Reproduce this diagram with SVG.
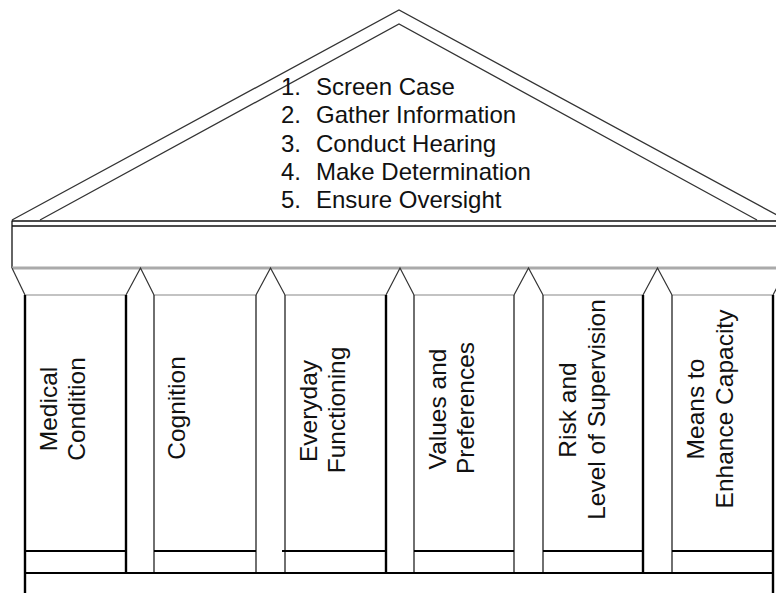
<svg xmlns="http://www.w3.org/2000/svg" width="776" height="593" viewBox="0 0 776 593">
  <style>
    .roof { fill: none; stroke: #333; stroke-width: 1.3; stroke-linejoin: miter; }
    .ent { fill: none; stroke: #111; stroke-width: 1.3; }
    .cap { fill: none; stroke: #333; stroke-width: 1.2; stroke-linejoin: miter; }
    .capbase { stroke: #888; stroke-width: 1.2; }
    .thick { stroke: #000; stroke-width: 2.4; }
    .thin { stroke: #333; stroke-width: 1.4; }
    .plinth { stroke: #000; stroke-width: 2.2; }
    .t { font-family: "Liberation Sans", Arial, sans-serif; font-size: 24px; fill: #111; }
    .c { font-family: "Liberation Sans", Arial, sans-serif; font-size: 24.5px; fill: #111; text-anchor: middle; }
  </style>

  <rect x="0" y="0" width="776" height="593" fill="#fff"/>

  <g id="roof">
    <polyline class="roof" points="12,220 399,10 786,220"/>
    <polyline class="roof" points="40,220 399,24 757,220"/>
    <text class="t" x="281" y="95">1.</text><text class="t" x="316" y="95">Screen Case</text>
    <text class="t" x="281" y="123.3">2.</text><text class="t" x="316" y="123.3">Gather Information</text>
    <text class="t" x="281" y="151.6">3.</text><text class="t" x="316" y="151.6">Conduct Hearing</text>
    <text class="t" x="281" y="180">4.</text><text class="t" x="316" y="180">Make Determination</text>
    <text class="t" x="281" y="208">5.</text><text class="t" x="316" y="208">Ensure Oversight</text>
  </g>

  <g id="entablature">
    <line class="ent" x1="12" y1="221" x2="786" y2="221"/>
    <line class="ent" x1="12" y1="226" x2="786" y2="226"/>
    <line class="ent" x1="12" y1="220.5" x2="12" y2="268"/>
    <line x1="12" y1="268" x2="786" y2="268" stroke="#aaa" stroke-width="3"/>
  </g>

  <g id="capitals">
    <polyline class="cap" points="12,268 25,295"/>
    <polyline class="cap" points="126,295 140.5,268 154,295"/>
    <polyline class="cap" points="256,295 270.5,268 285,295"/>
    <polyline class="cap" points="386,295 400,268 414,295"/>
    <polyline class="cap" points="514,295 528.5,268 543,295"/>
    <polyline class="cap" points="643,295 657.5,268 672,295"/>
    <polyline class="cap" points="773,295 787,268"/>
    <line class="capbase" x1="25" y1="295" x2="126" y2="295"/>
    <line class="capbase" x1="154" y1="295" x2="256" y2="295"/>
    <line class="capbase" x1="285" y1="295" x2="386" y2="295"/>
    <line class="capbase" x1="414" y1="295" x2="514" y2="295"/>
    <line class="capbase" x1="543" y1="295" x2="643" y2="295"/>
    <line class="capbase" x1="672" y1="295" x2="773" y2="295"/>
  </g>

  <g id="column-medical">
    <line class="thick" x1="25" y1="295" x2="25" y2="593"/>
    <line class="thick" x1="126" y1="295" x2="126" y2="573"/>
    <line class="plinth" x1="25" y1="551" x2="126" y2="551"/>
    <text class="c" transform="translate(57,409) rotate(-90)">Medical</text>
    <text class="c" transform="translate(85,409) rotate(-90)">Condition</text>
  </g>

  <g id="column-cognition">
    <line class="thin" x1="154" y1="295" x2="154" y2="573"/>
    <line class="thin" x1="256" y1="295" x2="256" y2="573"/>
    <line class="plinth" x1="154" y1="551" x2="256" y2="551"/>
    <text class="c" transform="translate(185,408) rotate(-90)">Cognition</text>
  </g>

  <g id="column-everyday">
    <line class="thin" x1="285" y1="295" x2="285" y2="573"/>
    <line class="thick" x1="386" y1="295" x2="386" y2="573"/>
    <line class="plinth" x1="282" y1="551" x2="386" y2="551"/>
    <text class="c" transform="translate(317,411) rotate(-90)">Everyday</text>
    <text class="c" transform="translate(345,410) rotate(-90)">Functioning</text>
  </g>

  <g id="column-values">
    <line class="thin" x1="414" y1="295" x2="414" y2="573"/>
    <line class="thin" x1="514" y1="295" x2="514" y2="573"/>
    <line class="plinth" x1="414" y1="551" x2="514" y2="551"/>
    <text class="c" transform="translate(446,409) rotate(-90)">Values and</text>
    <text class="c" transform="translate(474,408) rotate(-90)">Preferences</text>
  </g>

  <g id="column-risk">
    <line class="thin" x1="543" y1="295" x2="543" y2="573"/>
    <line class="thick" x1="643" y1="295" x2="643" y2="573"/>
    <line class="plinth" x1="543" y1="551" x2="643" y2="551"/>
    <text class="c" transform="translate(576,410) rotate(-90)">Risk and</text>
    <text class="c" transform="translate(605,409.5) rotate(-90)">Level of Supervision</text>
  </g>

  <g id="column-means">
    <line class="thin" x1="672" y1="295" x2="672" y2="573"/>
    <line class="thick" x1="773" y1="295" x2="773" y2="593"/>
    <line class="plinth" x1="672" y1="551" x2="773" y2="551"/>
    <text class="c" transform="translate(704,409) rotate(-90)">Means to</text>
    <text class="c" transform="translate(733,409) rotate(-90)">Enhance Capacity</text>
  </g>

  <g id="base">
    <line class="plinth" x1="25" y1="573" x2="773" y2="573"/>
  </g>

  <g id="connectors"></g>
</svg>
